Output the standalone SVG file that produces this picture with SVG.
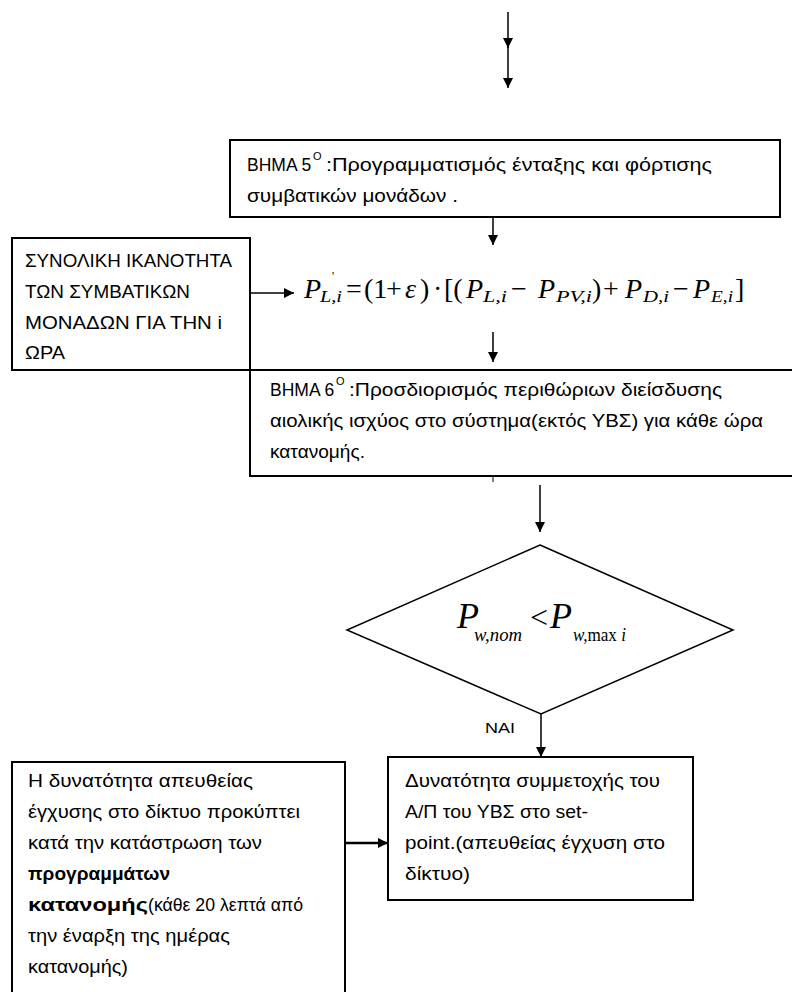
<svg xmlns="http://www.w3.org/2000/svg" width="792" height="992" viewBox="0 0 792 992">
<defs>
<marker id="ah" viewBox="0 0 10 10" refX="10" refY="5" markerWidth="10" markerHeight="10" markerUnits="userSpaceOnUse" orient="auto">
<path d="M0,0 L10,5 L0,10 z" fill="#000"/>
</marker>
<style>
.box{fill:#fff;stroke:#000;stroke-width:2}
.c{stroke:#000;stroke-width:1.5;fill:none;marker-end:url(#ah)}
.t{font-family:"Liberation Sans","DejaVu Sans",sans-serif;font-size:17.5px;fill:#000}
.b{font-weight:bold}
.sup{font-family:"Liberation Sans",sans-serif;font-size:11px}
.m{font-family:"Liberation Serif","Times New Roman",serif;font-size:28px;fill:#000}
.mi{font-style:italic}
.ms{font-family:"Liberation Serif",serif;font-style:italic;font-size:16px;fill:#000}
.d{font-family:"Liberation Serif",serif;fill:#000}
</style>
</defs>
<rect width="792" height="992" fill="#fff"/>

<g id="connectors">
<line class="c" x1="508" y1="12" x2="508" y2="48"/>
<line class="c" x1="508" y1="46" x2="508" y2="88"/>
<line class="c" x1="493" y1="217" x2="493" y2="245"/>
<line class="c" x1="250" y1="293" x2="294" y2="293"/>
<line class="c" x1="493" y1="332" x2="493" y2="362"/>
<line x1="493" y1="476" x2="493" y2="482" stroke="#000" stroke-width="1"/>
<line class="c" x1="540" y1="485" x2="540" y2="532"/>
<line class="c" x1="541" y1="714" x2="541" y2="757"/>
<line class="c" x1="345" y1="843" x2="388" y2="843" style="stroke-width:2.5"/>
</g>

<g id="step5">
<rect class="box" x="230" y="140" width="550" height="77"/>
<text class="t" x="247" y="171">ΒΗΜΑ 5</text>
<text class="t sup" x="313" y="160">O</text>
<text class="t" x="326" y="171" textLength="386" lengthAdjust="spacingAndGlyphs">:Προγραμματισμός ένταξης και φόρτισης</text>
<text class="t" x="247" y="202" textLength="211" lengthAdjust="spacingAndGlyphs">συμβατικών μονάδων .</text>
</g>

<g id="capacity">
<rect class="box" x="12" y="238" width="238" height="132"/>
<text class="t" x="25" y="267" textLength="207" lengthAdjust="spacingAndGlyphs">ΣΥΝΟΛΙΚΗ ΙΚΑΝΟΤΗΤΑ</text>
<text class="t" x="25" y="298" textLength="165" lengthAdjust="spacingAndGlyphs">ΤΩΝ ΣΥΜΒΑΤΙΚΩΝ</text>
<text class="t" x="25" y="329" textLength="197" lengthAdjust="spacingAndGlyphs">ΜΟΝΑΔΩΝ ΓΙΑ ΤΗΝ i</text>
<text class="t" x="25" y="359" textLength="40" lengthAdjust="spacingAndGlyphs">ΩΡΑ</text>
</g>

<g id="formula">
<text class="m mi" x="304" y="298">P</text>
<text class="ms" x="332" y="280" style="font-style:normal;font-size:12px">'</text>
<text class="ms" x="320" y="302" textLength="22" lengthAdjust="spacingAndGlyphs">L,i</text>
<text class="m" x="346" y="298">=</text>
<text class="m" x="364" y="298">(1</text>
<text class="m" x="386" y="298">+</text>
<text class="m mi" x="405" y="298">ε</text>
<text class="m" x="420" y="298">)</text>
<text class="m" x="433" y="298">·</text>
<text class="m" x="444" y="298">[(</text>
<text class="m mi" x="466" y="298">P</text>
<text class="ms" x="483" y="302" textLength="24" lengthAdjust="spacingAndGlyphs">L,i</text>
<text class="m" x="511" y="298">−</text>
<text class="m mi" x="538" y="298">P</text>
<text class="ms" x="556" y="302" textLength="36" lengthAdjust="spacingAndGlyphs">PV,i</text>
<text class="m" x="592" y="298">)</text>
<text class="m" x="603" y="298">+</text>
<text class="m mi" x="625" y="298">P</text>
<text class="ms" x="643" y="302" textLength="26" lengthAdjust="spacingAndGlyphs">D,i</text>
<text class="m" x="673" y="298">−</text>
<text class="m mi" x="693" y="298">P</text>
<text class="ms" x="711" y="302" textLength="22" lengthAdjust="spacingAndGlyphs">E,i</text>
<text class="m" x="735" y="298">]</text>
</g>

<g id="step6">
<line x1="12" y1="370" x2="800" y2="370" stroke="#000" stroke-width="2"/>
<polyline points="250,370 250,476 800,476" fill="none" stroke="#000" stroke-width="2"/>
<text class="t" x="270" y="396">ΒΗΜΑ 6</text>
<text class="t sup" x="336" y="385">O</text>
<text class="t" x="349" y="396" textLength="373" lengthAdjust="spacingAndGlyphs">:Προσδιορισμός περιθώριων διείσδυσης</text>
<text class="t" x="270" y="427" textLength="493" lengthAdjust="spacingAndGlyphs">αιολικής ισχύος στο σύστημα(εκτός ΥΒΣ) για κάθε ώρα</text>
<text class="t" x="270" y="458" textLength="95" lengthAdjust="spacingAndGlyphs">κατανομής.</text>
</g>

<g id="decision">
<polygon points="540,545 733,630 541,714 347,630" fill="#fff" stroke="#000" stroke-width="1.5"/>
<text class="d" x="457" y="628" font-size="36" font-style="italic">P</text>
<text class="d" x="474" y="641" font-size="19" font-style="italic" textLength="48" lengthAdjust="spacingAndGlyphs">w,nom</text>
<text class="d" x="530" y="628" font-size="32">&lt;</text>
<text class="d" x="550" y="628" font-size="36" font-style="italic">P</text>
<text class="d" x="573" y="641" font-size="19" textLength="53" lengthAdjust="spacingAndGlyphs"><tspan font-style="italic">w,</tspan>max<tspan font-style="italic"> i</tspan></text>
<text class="t" x="485" y="733" style="font-size:15px" textLength="30" lengthAdjust="spacingAndGlyphs">NAI</text>
</g>

<g id="setpoint">
<rect class="box" x="388" y="757" width="305" height="143"/>
<text class="t" x="405" y="787" textLength="255" lengthAdjust="spacingAndGlyphs">Δυνατότητα συμμετοχής του</text>
<text class="t" x="405" y="818" textLength="183" lengthAdjust="spacingAndGlyphs">Α/Π  του ΥΒΣ στο set-</text>
<text class="t" x="405" y="849" textLength="260" lengthAdjust="spacingAndGlyphs">point.(απευθείας  έγχυση στο</text>
<text class="t" x="405" y="880" textLength="65" lengthAdjust="spacingAndGlyphs">δίκτυο)</text>
</g>

<g id="direct">
<rect class="box" x="12" y="762" width="333" height="240"/>
<text class="t" x="28" y="787" textLength="225" lengthAdjust="spacingAndGlyphs">Η δυνατότητα απευθείας</text>
<text class="t" x="28" y="818" textLength="272" lengthAdjust="spacingAndGlyphs">έγχυσης στο δίκτυο προκύπτει</text>
<text class="t" x="28" y="849" textLength="234" lengthAdjust="spacingAndGlyphs">κατά την κατάστρωση των</text>
<text class="t b" x="28" y="880" textLength="142" lengthAdjust="spacingAndGlyphs">προγραμμάτων</text>
<text class="t b" x="28" y="911" textLength="120" lengthAdjust="spacingAndGlyphs">κατανομής</text>
<text class="t" x="148" y="911" textLength="155" lengthAdjust="spacingAndGlyphs">(κάθε 20 λεπτά από</text>
<text class="t" x="28" y="942" textLength="202" lengthAdjust="spacingAndGlyphs">την έναρξη της ημέρας</text>
<text class="t" x="28" y="973" textLength="100" lengthAdjust="spacingAndGlyphs">κατανομής)</text>
</g>
</svg>
